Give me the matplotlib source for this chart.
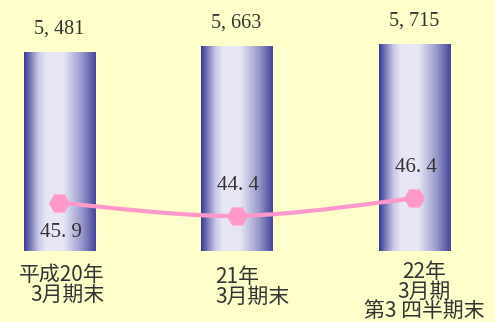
import numpy as np
import matplotlib
matplotlib.use("Agg")
import matplotlib.pyplot as plt
from matplotlib.colors import LinearSegmentedColormap
from matplotlib.path import Path
from matplotlib.patches import PathPatch

# data
labels = ["平成20年\n3月期末", "21年\n3月期末", "22年\n3月期\n第3 四半期末"]
bar_values = [5481, 5663, 5715]
bar_text = ["5, 481", "5, 663", "5, 715"]
line_values = [45.9, 44.4, 46.4]
line_text = ["45. 9", "44. 4", "46. 4"]

DPI = 100
PX = 72 / DPI  # points per pixel
bg = "#FFFFCC"
pink = "#FF99CC"
txt = "#333333"

fig = plt.figure(figsize=(4.95, 3.22), dpi=DPI, facecolor=bg)

x = np.arange(len(bar_values))
xlim = (-59 / 177.5, (495 - 59) / 177.5)

# bar axes: bottom of bars at 251px from top
ax = fig.add_axes([0, 71 / 322, 1, 251 / 322])
ax.set_xlim(*xlim)
ax.set_ylim(0, 6920)
ax.axis("off")

cmap = LinearSegmentedColormap.from_list(
    "bar", [(0, "#393995"), (0.2, "#c8c8e6"), (0.3, "#e6e6f6"), (0.55, "#e6e6f6"),
            (0.8, "#9a9acb"), (1, "#45459c")])
grad = np.linspace(0, 1, 256).reshape(1, -1)
width = 0.4
bars = ax.bar(x, bar_values, width=width, color="none", edgecolor="none")
for b in bars:
    im = ax.imshow(grad, cmap=cmap, aspect="auto",
                   extent=(b.get_x(), b.get_x() + b.get_width(), 0, b.get_height()),
                   zorder=1)
    im.set_clip_path(b)
ax.set_xlim(*xlim)
ax.set_ylim(0, 6920)

for i, v in enumerate(bar_values):
    ax.annotate(bar_text[i], (x[i], v), xytext=(0, 23 * PX), textcoords="offset points",
                ha="center", va="center", fontsize=14.5, family="Liberation Serif", color=txt)

# category labels: (ha, dx px from bar centre, dy px below bar bottom)
label_pos = [("right", 46, 13), ("left", -21, 15), ("center", 10, 10)]
for i, lab in enumerate(labels):
    ha, dx, dy = label_pos[i]
    ax.annotate(lab, (x[i], 0), xytext=(dx * PX, -dy * PX), textcoords="offset points",
                ha=ha, va="top", multialignment=ha, linespacing=0.88,
                fontsize=15, family=["Noto Sans CJK JP", "DejaVu Sans"],
                color=txt, annotation_clip=False)

# line axes: full figure
ax2 = fig.add_axes([0, 0, 1, 1])
ax2.set_xlim(*xlim)
ax2.set_ylim(32.35, 32.35 + 322 / 8.8)
ax2.axis("off")
ax2.patch.set_alpha(0)

# smooth curve through the points (Catmull-Rom as cubic Bezier)
pts = np.column_stack([x, line_values]).astype(float)
verts = [tuple(pts[0])]
codes = [Path.MOVETO]
for k in range(len(pts) - 1):
    p0 = pts[k - 1] if k > 0 else pts[k]
    p1, p2 = pts[k], pts[k + 1]
    p3 = pts[k + 2] if k + 2 < len(pts) else pts[k + 1]
    c1 = p1 + (p2 - p0) / 6
    c2 = p2 - (p3 - p1) / 6
    verts += [tuple(c1), tuple(c2), tuple(p2)]
    codes += [Path.CURVE4] * 3
ax2.add_patch(PathPatch(Path(verts, codes), facecolor="none", edgecolor=pink, lw=3, zorder=3))
ax2.plot(x, line_values, linestyle="none", marker="H", markersize=14, color=pink, zorder=4)

line_dy = [-29.5, 30, 31]
for i, v in enumerate(line_values):
    ax2.annotate(line_text[i], (x[i], v), xytext=(1.5 * PX, line_dy[i] * PX), textcoords="offset points",
                 ha="center", va="center", fontsize=15, family="Liberation Serif", color=txt)

fig.savefig("out.png", dpi=DPI, facecolor=bg)
